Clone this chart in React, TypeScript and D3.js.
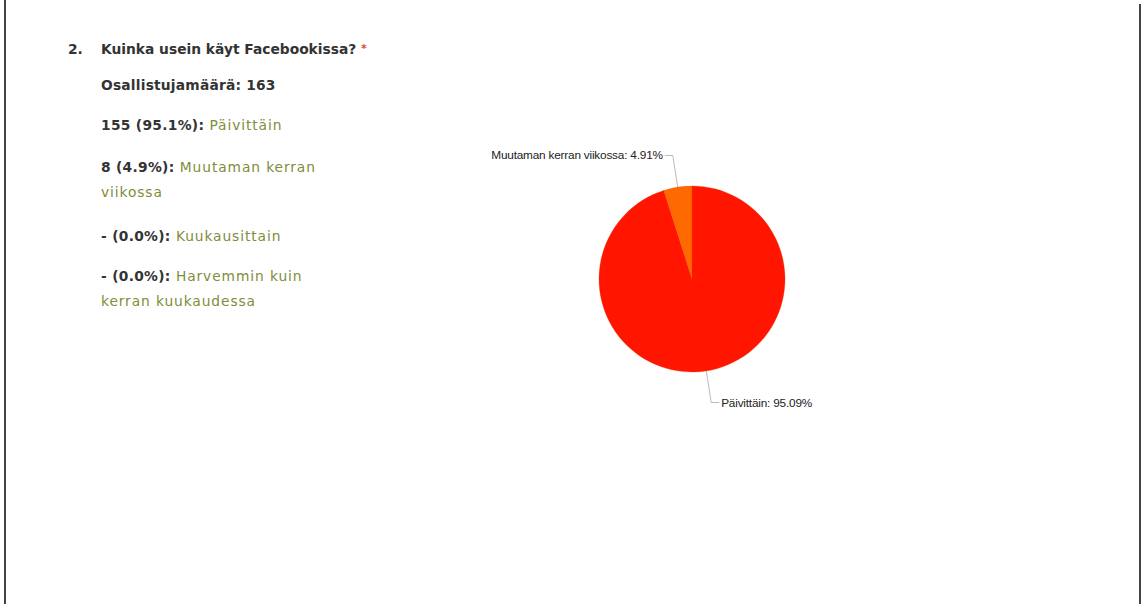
import React from "react";
import * as d3 from "d3";

const categories = ["Päivittäin", "Muutaman kerran viikossa"];
const percents = [95.09, 4.91];
const sliceColors = ["#ff1500", "#ff6a00"];

const questionNumber = "2.";
const questionText = "Kuinka usein käyt Facebookissa?";
const participants = "Osallistujamäärä: 163";
const answerCounts = ["155 (95.1%):", "8 (4.9%):", "- (0.0%):", "- (0.0%):"];
const answerLabels: string[][] = [
  ["Päivittäin"],
  ["Muutaman kerran", "viikossa"],
  ["Kuukausittain"],
  ["Harvemmin kuin", "kerran kuukaudessa"],
];

const W = 1141;
const H = 604;

export default function App() {
  const cx = 692;
  const cy = 279;
  const r = 93;
  const pie = d3.pie<number>().sort(null).value((d) => d);
  const arcs = pie(percents);
  const arcGen = d3.arc<d3.PieArcDatum<number>>().innerRadius(0).outerRadius(r);

  const textFont = "'DejaVu Sans', Verdana, sans-serif";
  const answerY = [130, 172, 241, 281];
  const lineGap = 25;

  return (
    <svg
      width={W}
      height={H}
      style={{ position: "absolute", left: 0, top: 0, background: "#ffffff" }}
    >
      <rect x={0} y={0} width={W} height={H} fill="#ffffff" />
      <line x1={5} y1={0} x2={5} y2={H} stroke="#444" strokeWidth={2} />
      <line x1={1140} y1={4} x2={1140} y2={H} stroke="#444" strokeWidth={2} />

      <g fontFamily={textFont} fontSize={13.8} fill="#333" fontWeight={600}>
        <text x={68} y={54}>{questionNumber}</text>
        <text x={101} y={54}>
          {questionText}
          <tspan fill="#e0402a" dx={5} fontSize={10} dy={-2}>*</tspan>
        </text>
        <text x={101} y={90} letterSpacing={0.2}>{participants}</text>
        {answerCounts.map((c, i) => (
          <text key={i} x={101} y={answerY[i]}>
            <tspan letterSpacing={0.3}>{c}</tspan>
            <tspan fill="#7f8d3a" fontWeight={500} letterSpacing={0.9}> {answerLabels[i][0]}</tspan>
            {answerLabels[i].slice(1).map((l, j) => (
              <tspan key={j} x={101} dy={lineGap} fill="#7f8d3a" fontWeight={500} letterSpacing={0.9}>{l}</tspan>
            ))}
          </text>
        ))}
      </g>

      <g transform={`translate(${cx},${cy})`}>
        {arcs.map((a, i) => (
          <path key={i} d={arcGen(a) || ""} fill={sliceColors[i]} stroke="#e83a00" strokeWidth={0.3} />
        ))}
        {arcs.map((a, i) => {
          const mid = (a.startAngle + a.endAngle) / 2;
          const sx = Math.sin(mid);
          const sy = -Math.cos(mid);
          const p1 = [sx * r, sy * r];
          const p2 = [sx * (r + 32), sy * (r + 32)];
          const dir = i === 0 ? 1 : -1;
          const p3 = [p2[0] + dir * 8, p2[1]];
          return (
            <g key={`l${i}`}>
              <polyline
                points={`${p1[0]},${p1[1]} ${p2[0]},${p2[1]} ${p3[0]},${p3[1]}`}
                fill="none"
                stroke="#aaa"
                strokeWidth={0.8}
              />
              <text
                x={p3[0] + dir * 2}
                y={p3[1] + 4}
                textAnchor={dir > 0 ? "start" : "end"}
                fontFamily="'Liberation Sans', Arial, sans-serif"
                fontSize={11.8}
                letterSpacing={-0.2}
                fill="#222"
              >
                {`${categories[i]}: ${percents[i].toFixed(2)}%`}
              </text>
            </g>
          );
        })}
      </g>
    </svg>
  );
}
